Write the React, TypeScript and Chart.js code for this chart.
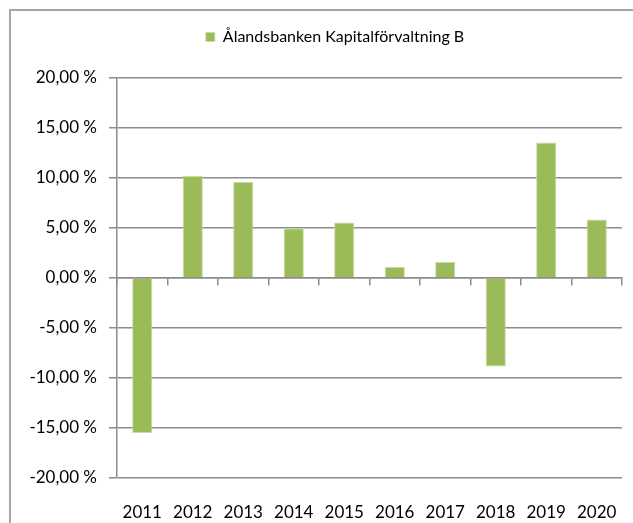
import React, { useEffect, useRef } from "react";
import { Chart, registerables } from "chart.js";

Chart.register(...registerables);

const categories = ["2011", "2012", "2013", "2014", "2015", "2016", "2017", "2018", "2019", "2020"];
const seriesName = "Ålandsbanken Kapitalförvaltning B";
const seriesValues = [-15.5, 10.2, 9.6, 4.97, 5.55, 1.1, 1.6, -8.85, 13.55, 5.85];
const yMin = -20;
const yMax = 20;
const yStep = 5;

const FONT = "Lato, 'Open Sans', sans-serif";
const GRID = "#8c8c8c";

export default function App() {
  const ref = useRef<HTMLCanvasElement | null>(null);

  useEffect(() => {
    if (!ref.current) return;
    const legendPlugin = {
      id: "legendTweak",
      beforeInit(chart: any) {
        const lg = chart.legend;
        if (!lg) return;
        const orig = lg.fit;
        lg.fit = function () {
          orig.bind(lg)();
          this.height = 78;
        };
      },
      afterLayout(chart: any) {
        const lg = chart.legend;
        if (lg) lg.left = 48;
      },
    };
    const chart = new Chart(ref.current, {
      type: "bar",
      data: {
        labels: categories,
        datasets: [
          {
            label: seriesName,
            data: seriesValues,
            backgroundColor: "#9BBB59",
            borderColor: "#c9dba6",
            borderWidth: 1,
            barPercentage: 0.4,
            categoryPercentage: 1,
            xAxisID: "x",
            yAxisID: "y",
          },
        ],
      },
      options: {
        animation: false,
        responsive: false,
        devicePixelRatio: 1,
        layout: { padding: { left: 0, right: 11, top: 0, bottom: 0 } },
        plugins: {
          tooltip: { enabled: false },
          legend: {
            display: true,
            position: "top",
            align: "center",
            labels: {
              boxWidth: 9,
              boxHeight: 9,
              padding: 29,
              color: "#000",
              font: { family: FONT, size: 16 },
            },
          },
        },
        scales: {
          x: {
            type: "category",
            position: "bottom",
            offset: true,
            grid: { display: false, offset: true },
            border: { display: false },
            ticks: { color: "#000", font: { family: FONT, size: 17 }, padding: 16, maxRotation: 0 },
            afterFit(scale: any) {
              scale.height = 45;
            },
          },
          x2: {
            type: "category",
            position: { y: 0 } as any,
            offset: true,
            grid: {
              display: true,
              offset: true,
              drawOnChartArea: false,
              drawTicks: true,
              tickLength: 7,
              color: GRID,
              lineWidth: 1.5,
            },
            border: { display: true, color: GRID, width: 1.5 },
            ticks: { display: false },
            afterFit(scale: any) {
              scale.height = 0;
            },
          },
          y: {
            type: "linear",
            position: "left",
            min: yMin,
            max: yMax,
            ticks: {
              stepSize: yStep,
              color: "#000",
              font: { family: FONT, size: 17 },
              padding: 12,
              callback: (v: any) => Number(v).toFixed(2).replace(".", ",") + " %",
            },
            grid: { color: GRID, lineWidth: 1.5, tickLength: 8, drawTicks: true },
            border: { display: true, color: GRID, width: 1.5 },
            afterFit(scale: any) {
              scale.width = 117;
            },
          },
        },
      },
      plugins: [legendPlugin],
    } as any);
    return () => chart.destroy();
  }, []);

  return (
    <div style={{ position: "fixed", left: 0, top: 0, width: 633, height: 523, overflow: "hidden", background: "#fff" }}>
      <div
        style={{
          position: "absolute",
          left: 9,
          top: 9,
          width: 700,
          height: 600,
          border: "2px solid #a6a6a6",
          boxSizing: "border-box",
        }}
      />
      <canvas ref={ref} width={633} height={523} style={{ position: "absolute", left: 0, top: 0, width: 633, height: 523 }} />
    </div>
  );
}
